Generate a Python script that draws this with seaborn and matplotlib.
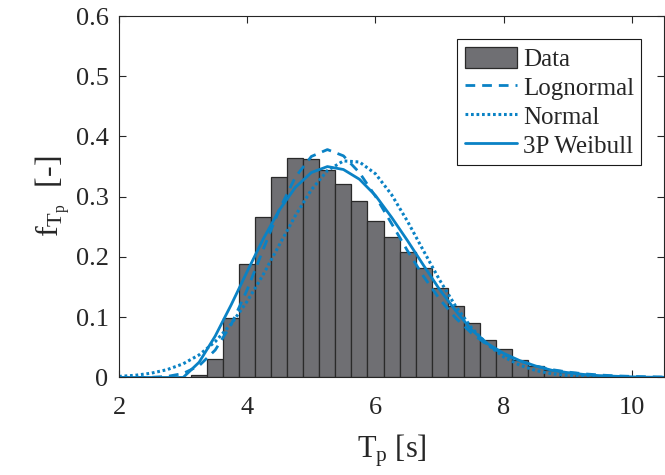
import matplotlib
matplotlib.use("Agg")
import matplotlib.pyplot as plt
import numpy as np
import pandas as pd
import seaborn as sns

# histogram: normalised bar heights, bins of 0.25 s starting at 3.125 s
bin_start = 3.125
bin_width = 0.25
bar_density = [0.004, 0.030, 0.099, 0.188, 0.266, 0.333, 0.365, 0.362, 0.344, 0.321,
               0.293, 0.259, 0.234, 0.208, 0.181, 0.148, 0.119, 0.091, 0.063, 0.047,
               0.029, 0.019, 0.013, 0.009, 0.006, 0.004, 0.002, 0.001]

# fitted pdf curves at every 0.25 s from 2 to 10.5
tp_grid = [2.0, 2.25, 2.5, 2.75, 3.0, 3.25, 3.5, 3.75, 4.0, 4.25, 4.5, 4.75, 5.0, 5.25,
           5.5, 5.75, 6.0, 6.25, 6.5, 6.75, 7.0, 7.25, 7.5, 7.75, 8.0, 8.25, 8.5, 8.75,
           9.0, 9.25, 9.5, 9.75, 10.0, 10.25, 10.5]
lognormal_pdf = [0.0, 0.0, 0.0003, 0.0017, 0.0067, 0.0196, 0.0455, 0.0880, 0.1460, 0.2129,
                 0.2787, 0.3325, 0.3669, 0.3783, 0.3679, 0.3400, 0.3006, 0.2557, 0.2102,
                 0.1677, 0.1302, 0.0988, 0.0734, 0.0536, 0.0385, 0.0272, 0.0190, 0.0131,
                 0.0090, 0.0061, 0.0041, 0.0027, 0.0018, 0.0012, 0.0008]
normal_pdf = [0.0018, 0.0036, 0.0071, 0.0130, 0.0227, 0.0376, 0.0594, 0.0890, 0.1266, 0.1711,
              0.2200, 0.2686, 0.3115, 0.3434, 0.3595, 0.3577, 0.3381, 0.3036, 0.2591,
              0.2101, 0.1618, 0.1184, 0.0823, 0.0544, 0.0341, 0.0204, 0.0115, 0.0062,
              0.0032, 0.0015, 0.0007, 0.0003, 0.0001, 0.0, 0.0]
weibull3p_pdf = [0.0, 0.0, 0.0, 0.0, 0.0, 0.0254, 0.0687, 0.1208, 0.1762, 0.2301,
                 0.2779, 0.3156, 0.3402, 0.3501, 0.3452, 0.3290, 0.3020, 0.2660, 0.2270,
                 0.1860, 0.1460, 0.1110, 0.0790, 0.0560, 0.0400, 0.0280, 0.0190, 0.0120,
                 0.0080, 0.0050, 0.0030, 0.0020, 0.0010, 0.0005, 0.0003]

x_ticks = [2, 4, 6, 8, 10]
y_ticks = [0, 0.1, 0.2, 0.3, 0.4, 0.5, 0.6]
y_tick_labels = ["0", "0.1", "0.2", "0.3", "0.4", "0.5", "0.6"]
legend_order = ["Data", "Lognormal", "Normal", "3P Weibull"]

blue = "#0a82c5"
axis_col = "#262626"

sns.set_theme(style="ticks")
plt.rcParams["font.family"] = ["Liberation Serif", "DejaVu Serif"]
plt.rcParams["mathtext.fontset"] = "custom"
plt.rcParams["mathtext.rm"] = "Liberation Serif"
plt.rcParams["mathtext.it"] = "Liberation Serif:italic"

fig = plt.figure(figsize=(6.65, 4.75), dpi=100)
ax = fig.add_axes([0.179, 0.2053, 0.8195, 0.7610])

edges = [float(e) for e in bin_start + bin_width * np.arange(len(bar_density) + 1)]
hist_df = pd.DataFrame({"tp": [e + bin_width / 2 for e in edges[:-1]], "density": bar_density})
sns.histplot(
    data=hist_df,
    x="tp",
    weights="density",
    bins=edges,
    color="#6f6f73",
    edgecolor="#2a2a2a",
    linewidth=0.9,
    alpha=1.0,
    label="Data",
    ax=ax,
)

sns.lineplot(x=tp_grid, y=lognormal_pdf, color=blue, linewidth=2.0,
             linestyle=(0, (3.5, 2.5)), label="Lognormal", ax=ax)
sns.lineplot(x=tp_grid, y=normal_pdf, color=blue, linewidth=2.2,
             linestyle=(0, (0.9, 0.9)), label="Normal", ax=ax)
sns.lineplot(x=tp_grid, y=weibull3p_pdf, color=blue, linewidth=2.0,
             linestyle="-", label="3P Weibull", ax=ax)

ax.set_xlim(2, 10.5)
ax.set_ylim(0, 0.6)
ax.set_xticks(x_ticks)
ax.set_yticks(y_ticks)
ax.set_yticklabels(y_tick_labels)
ax.tick_params(direction="in", length=5, width=0.8, colors=axis_col,
               labelsize=19, top=True, right=True)
ax.tick_params(axis="x", pad=14)
ax.tick_params(axis="y", pad=7.5)
for side in ax.spines.values():
    side.set_color(axis_col)
    side.set_linewidth(0.8)

ax.set_xlabel(r"$\mathrm{T_p}$ [s]", fontsize=22, color=axis_col, labelpad=10)
ax.set_ylabel(r"$\mathrm{f_{T_p}}$  [-]", fontsize=23, color=axis_col, labelpad=2)

handles, labels = ax.get_legend_handles_labels()
by_label = dict(zip(labels, handles))
leg = ax.legend(
    [by_label[k] for k in legend_order],
    legend_order,
    loc="upper right",
    bbox_to_anchor=(0.9585, 0.9355),
    borderaxespad=0,
    fontsize=18,
    frameon=True,
    fancybox=False,
    edgecolor="#1a1a1a",
    framealpha=1,
    handlelength=2.1,
    handleheight=0.9,
    handletextpad=0.23,
    labelspacing=0.2,
    borderpad=0.3,
)
leg.get_frame().set_linewidth(0.8)

fig.savefig("out.png", dpi=100)
